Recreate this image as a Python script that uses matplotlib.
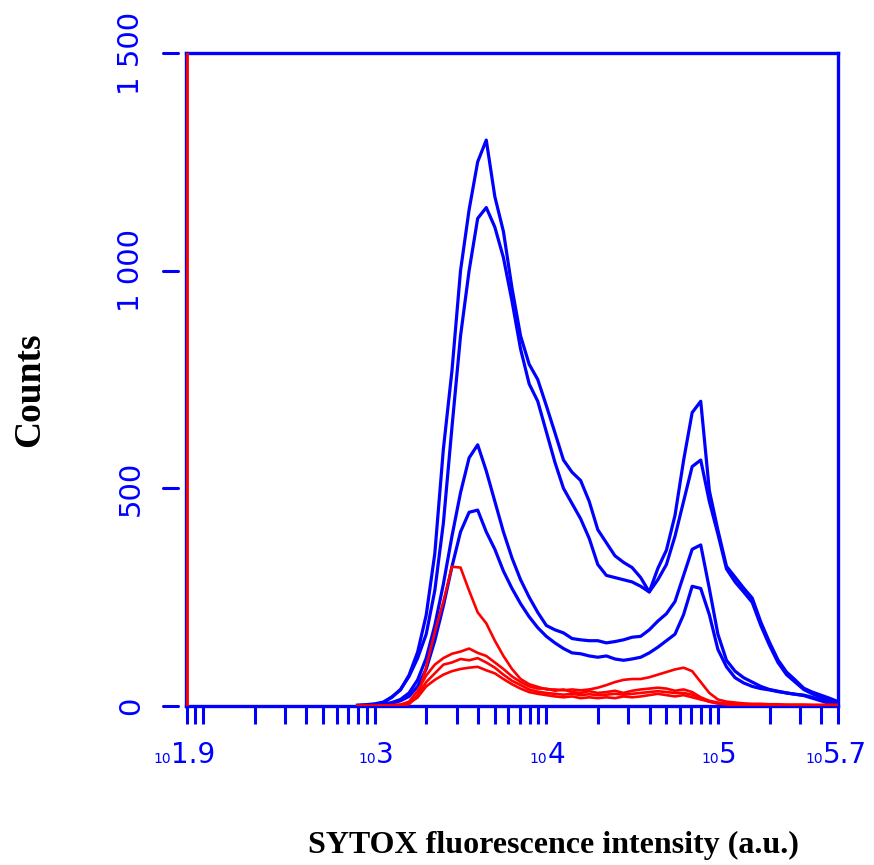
import numpy as np
import matplotlib
matplotlib.use("Agg")
import matplotlib.pyplot as plt
from matplotlib.ticker import LogLocator, NullFormatter, NullLocator
import matplotlib.transforms as mtransforms

# ---------------- data ----------------
# histogram bin centres, log10 of fluorescence intensity
log_centers = np.round(np.arange(2.90, 5.701, 0.05), 2)

blue_a = [2, 3, 5, 9, 21, 37, 71, 124, 209, 350, 590, 770, 1000, 1140, 1250, 1300, 1170, 1090, 960, 850,
          785, 750, 690, 628, 565, 537, 518, 470, 405, 375, 345, 330, 318, 295, 262, 316, 358, 438, 564, 674,
          700, 495, 404, 321, 296, 271, 248, 193, 147, 106, 78, 60, 41, 32, 25, 18, 10]
blue_b = [1, 2, 3, 8, 20, 38, 68, 110, 165, 265, 420, 640, 850, 1000, 1120, 1145, 1100, 1030, 930, 820,
          740, 700, 630, 560, 500, 465, 430, 385, 325, 300, 295, 290, 285, 275, 262, 290, 325, 390, 470, 550,
          565, 470, 395, 315, 285, 262, 238, 185, 140, 100, 72, 55, 38, 28, 20, 14, 8]
blue_c = [0, 1, 2, 4, 8, 15, 30, 60, 110, 185, 280, 390, 490, 570, 600, 540, 470, 400, 340, 290,
          250, 215, 185, 175, 168, 155, 152, 150, 150, 145, 148, 152, 158, 160, 175, 195, 212, 240, 300, 360,
          370, 270, 165, 105, 80, 65, 55, 45, 38, 34, 30, 27, 25, 20, 14, 8, 4]
blue_d = [0, 0, 1, 3, 6, 12, 22, 45, 85, 150, 230, 320, 400, 445, 450, 400, 360, 310, 270, 235,
          205, 180, 160, 145, 132, 122, 120, 115, 112, 115, 108, 105, 108, 112, 122, 135, 150, 165, 210, 275,
          270, 210, 130, 90, 65, 53, 45, 40, 37, 33, 30, 27, 24, 18, 12, 6, 3]

red_a = [0, 0, 0, 1, 2, 3, 8, 20, 90, 170, 240, 320, 318, 265, 215, 190, 150, 115, 85, 62,
         50, 44, 38, 38, 36, 38, 36, 38, 42, 48, 55, 60, 62, 62, 66, 72, 78, 84, 88, 80,
         55, 30, 15, 10, 8, 6, 5, 5, 4, 4, 3, 3, 3, 2, 2, 2, 2]
red_b = [0, 0, 0, 1, 1, 3, 10, 35, 70, 95, 110, 120, 125, 132, 122, 115, 100, 85, 68, 55,
         45, 40, 40, 35, 38, 32, 30, 34, 30, 32, 35, 30, 35, 38, 40, 42, 40, 35, 38, 32,
         20, 12, 8, 5, 4, 3, 3, 2, 2, 2, 2, 2, 2, 2, 2, 2, 2]
red_c = [0, 0, 0, 0, 1, 2, 6, 20, 45, 60, 72, 80, 85, 88, 90, 82, 75, 62, 50, 40,
         32, 28, 25, 22, 20, 22, 18, 20, 18, 20, 18, 22, 20, 22, 25, 28, 25, 22, 25, 20,
         15, 10, 6, 4, 3, 2, 2, 2, 2, 2, 2, 2, 2, 2, 2, 2, 2]
red_d = [0, 0, 0, 0, 1, 2, 4, 25, 55, 75, 95, 100, 108, 105, 110, 100, 88, 72, 58, 48,
         38, 33, 30, 28, 26, 28, 25, 27, 25, 26, 28, 26, 28, 30, 32, 34, 32, 30, 30, 26,
         18, 10, 6, 4, 3, 3, 2, 2, 2, 2, 2, 2, 2, 2, 2, 2, 2]

# off-scale first bin of the red histogram (clipped at the left edge)
red_edge_log = 1.905
red_edge_count = 1600

x_label_exps = [1.9, 3, 4, 5, 5.7]
x_label_texts = ["1.9", "3", "4", "5", "5.7"]
y_tick_values = [0, 500, 1000, 1500]
y_tick_texts = ["0", "500", "1 000", "1 500"]

x_min_log, x_max_log = 1.9, 5.7
y_max = 1500

BLUE = "#0000FF"
RED = "#FF0000"

# ---------------- figure ----------------
fig = plt.figure(figsize=(8.74, 8.65), dpi=100)
ax = fig.add_axes([186 / 874, 1 - 706 / 865, 652 / 874, 653 / 865])
ax.set_xscale("log")
ax.set_xlim(10 ** x_min_log, 10 ** x_max_log)
ax.set_ylim(0, y_max)

xs = 10 ** log_centers
for series in (blue_a, blue_b, blue_c, blue_d):
    ax.plot(xs, series, color=BLUE, lw=2.3, solid_joinstyle="round", zorder=3)
for series in (red_d, red_c, red_b, red_a):
    ax.plot(xs, series, color=RED, lw=1.9, solid_joinstyle="round", zorder=4)
ax.vlines(10 ** red_edge_log, 0, red_edge_count, color=RED, lw=2.0, zorder=5)

for s in ax.spines.values():
    s.set_color(BLUE)
    s.set_linewidth(2.4)

# x ticks: log ticks pointing down
ax.xaxis.set_major_locator(LogLocator(base=10, subs=np.arange(1, 10)))
ax.xaxis.set_minor_locator(NullLocator())
ax.xaxis.set_major_formatter(NullFormatter())
ax.tick_params(axis="x", which="major", direction="out", length=13, width=2.2, color=BLUE)
ax.yaxis.set_major_locator(NullLocator())
ax.yaxis.set_minor_locator(NullLocator())

# x tick labels: small "10" followed by large exponent
pt = 72 / 100.0
for e, t in zip(x_label_exps, x_label_texts):
    dx = (-15 if abs(e - round(e)) > 1e-6 else 1) * pt
    ax.annotate("10", xy=(10 ** e, 0), xycoords=("data", "axes fraction"),
                xytext=(dx, -57 * pt), textcoords="offset points",
                ha="right", va="baseline", fontsize=10, color=BLUE,
                family="DejaVu Sans", annotation_clip=False)
    ax.annotate(t, xy=(10 ** e, 0), xycoords=("data", "axes fraction"),
                xytext=(dx, -57 * pt), textcoords="offset points",
                ha="left", va="baseline", fontsize=20, color=BLUE,
                family="DejaVu Sans", annotation_clip=False)

# y tick labels (rotated) with small detached dashes
blend = mtransforms.blended_transform_factory(ax.transAxes, ax.transData)
for v, t in zip(y_tick_values, y_tick_texts):
    ax.annotate(t, xy=(0, v), xycoords=("axes fraction", "data"),
                xytext=(-55 * pt, 0), textcoords="offset points",
                ha="center", va="center", rotation=90, fontsize=21, color=BLUE,
                family="DejaVu Sans", annotation_clip=False)
    ax.plot([-23 / 652, -8 / 652], [v, v], transform=blend, color=BLUE, lw=2.2,
            clip_on=False, solid_capstyle="round")

fig.text(30 / 874, 1 - 390 / 865, "Counts", rotation=90, ha="center", va="center",
         fontsize=27, fontweight="bold", family="Liberation Serif", color="black")
fig.text(553 / 874, 1 - 845 / 865, "SYTOX fluorescence intensity (a.u.)", ha="center", va="center",
         fontsize=23, fontweight="bold", family="Liberation Serif", color="black")

fig.savefig("out.png", dpi=100)
